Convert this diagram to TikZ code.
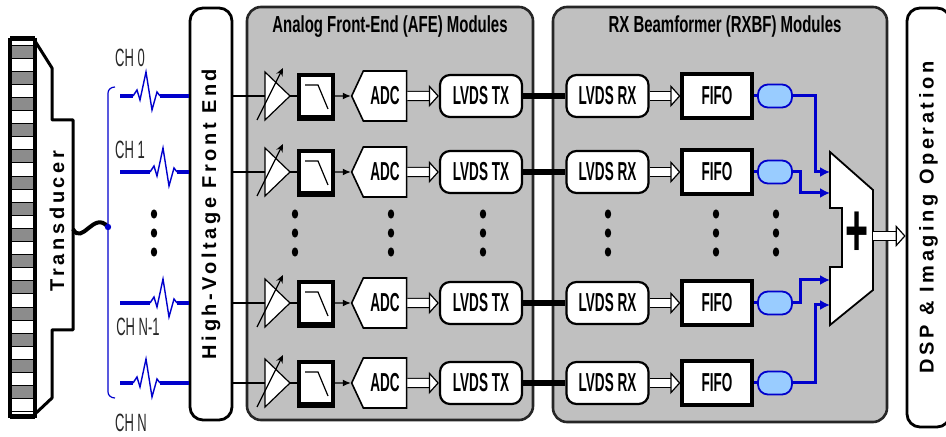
\documentclass[tikz,border=0pt]{standalone}
\usepackage{fontspec}
\setmainfont{Liberation Sans}
\newfontfamily\narrowfont{Liberation Sans}[FakeStretch=0.52]
\newfontfamily\titlefont{Liberation Sans}[FakeStretch=0.645]
\newfontfamily\widefont{Liberation Sans}[LetterSpace=18]
\usetikzlibrary{arrows.meta,shapes.symbols}
\definecolor{panel}{HTML}{C0C0C0}
\definecolor{wireblue}{HTML}{0000CC}
\definecolor{pillblue}{HTML}{99CCFF}
\definecolor{elemgray}{HTML}{8C8C8C}

\tikzset{
  module/.style={draw=black!85, line width=1.3pt, fill=panel, rounded corners=7pt},
  upright/.style={draw, line width=1.4pt, fill=white, rounded corners=6.5pt, rotate=90,
    font=\widefont\bfseries\fontsize{10}{10}\selectfont},
  modtitle/.style={font=\titlefont\bfseries\fontsize{11.6}{12}\selectfont},
  boxtext/.style={font=\narrowfont\bfseries\fontsize{13}{13}\selectfont},
  lvds/.style={boxtext, draw, line width=1.1pt, fill=white, rounded corners=5pt,
    minimum width=41pt, minimum height=21pt},
  fifo/.style={boxtext, draw, line width=1.6pt, fill=white, minimum width=35pt, minimum height=22pt},
  adc/.style={boxtext, shape=signal, signal to=west, signal pointer angle=130, draw,
    line width=0.8pt, fill=white, minimum width=27.5pt, minimum height=25pt},
  lpf/.style={draw, line width=1.6pt, fill=white, minimum width=17pt, minimum height=21pt},
  pill/.style={draw=wireblue, line width=0.9pt, fill=pillblue, rounded corners=5pt,
    minimum width=17pt, minimum height=11.5pt},
  chwire/.style={wireblue, line width=2pt},
  zigzag/.style={wireblue, line width=0.7pt},
  bus/.style={wireblue, line width=1.5pt},
  link/.style={line width=2.6pt},
  fat/.style={double=white, double distance=4pt, line width=0.6pt,
    -{Triangle[fill=white, length=5pt, width=11pt, line width=0.6pt]}},
  chlabel/.style={font=\narrowfont\fontsize{12.5}{13}\selectfont, text=black!85}
}

\begin{document}
\begin{tikzpicture}[x=0.5pt, y=-0.5pt, every node/.append style={inner sep=0pt}]
    \useasboundingbox (0,0) rectangle (946,437);
    \clip (0,0) rectangle (946,437);

    % module panels
    \node[module, minimum width=143pt, minimum height=206.5pt] (afe) at (390,213.5) {};
    \node[module, minimum width=167pt, minimum height=207.5pt] (rxbf) at (720,214.5) {};
    \node[modtitle] (afet) at (390,27) {Analog Front-End (AFE) Modules};
    \node[modtitle] (rxbft) at (725,27) {RX Beamformer (RXBF) Modules};

    \node[upright, minimum width=206pt, minimum height=21pt] (hv) at (211,214) {High-Voltage Front End};
    \node[upright, minimum width=209.5pt, minimum height=21.5pt] (dsp) at (928.5,217.5) {DSP \& Imaging Operation};

    % transducer
    \foreach \i in {0,2,...,26}
    \draw[fill=elemgray, line width=0.4pt] (10,45+\i*13.1) rectangle (35,58.1+\i*13.1);
    \foreach \i in {1,3,...,27}
    \draw[fill=white, line width=0.4pt] (10,45+\i*13.1) rectangle (35,58.1+\i*13.1);
    \draw[line width=1.5pt, line join=round] (35,41) -- (52,68) -- (52,120) -- (73,120) -- (73,330)
        -- (52,330) -- (52,398) -- (35,414);
    \draw[line width=2.5pt] (10,39) -- (35,39);
    \draw[line width=2.5pt] (10,417) -- (35,417);
    \draw[line width=1.8pt] (10,38) -- (10,418);
    \draw[line width=1.8pt] (35,38) -- (35,418);
    \node[rotate=90, font=\widefont\bfseries\fontsize{10}{10}\selectfont] (trd) at (57,221) {Transducer};

    % cable and bracket
    \coordinate (tap) at (108,227);
    \draw[line width=2pt] (73,229) .. controls (82,246) and (94,210) .. (tap);
    \draw[wireblue, line width=0.6pt] (115,87) to[out=180, in=90] (108,93) -- (108,392) to[out=-90, in=180] (115,398);
    \fill[wireblue] (tap) circle (1.6pt);

    \node[chlabel] (l0) at (130,58) {CH 0};
    \node[chlabel] (l1) at (130,150) {CH 1};
    \node[chlabel] (l2) at (138,327) {CH N-1};
    \node[chlabel] (l3) at (131,423) {CH N};

    % summer inputs
    \coordinate (in0) at (830,172);
    \coordinate (in1) at (830,193);
    \coordinate (in2) at (830,280);
    \coordinate (in3) at (830,305);

    \foreach \y/\n/\r/\k in {96/0/133/23, 172/1/150/8, 303/2/150/8, 383/3/133/23} {
        \coordinate (ch\n) at (120,\y);
        \coordinate (amp\n) at (265,\y);
        \draw[chwire] (ch\n) -- (\r,\y);
        \draw[zigzag] (\r,\y) -- ++(4,-6) -- ++(3,10) -- ++(6,-28) -- ++(6,38) -- ++(5,-18) -- ++(3,4) coordinate (rz\n);
        \draw[chwire] (rz\n) -- (hv.north |- ch\n);
        \draw[line width=0.6pt] (hv.south |- amp\n) -- (amp\n);
        \draw[fill=white, line width=0.6pt] (amp\n) ++(0,-24) -- ++(25,24) coordinate (ampo\n) -- ++(-25,24) -- cycle;
        \draw[line width=0.6pt, -{Stealth[length=4pt, width=3.5pt]}] ([shift={(-8,24)}]amp\n) -- ([shift={(18,-28)}]amp\n);
        \node[lpf] (lp\n) at (316,\y) {};
        \draw[line width=2.2pt] (lp\n.south west) -- (lp\n.south east);
        \draw[line width=0.6pt] ([shift={(-11,-11)}]lp\n.center) -- ++(13,0) -- ++(10,24);
        \draw[line width=0.6pt] (ampo\n) -- (lp\n);
        \node[adc] (adc\n) at (385,\y) {ADC};
        \draw[line width=0.6pt, -{Latex[length=4pt, width=3.5pt]}] (lp\n) -- (adc\n);
        \node[lvds] (tx\n) at (481,\y) {LVDS TX};
        \draw[fat] (adc\n) -- (tx\n);
        \node[lvds] (rx\n) at (607.5,\y) {LVDS RX};
        \draw[link] (tx\n) -- (rx\n);
        \node[fifo] (ff\n) at (717,\y) {FIFO};
        \draw[fat] (rx\n) -- (ff\n);
        \node[pill] (pl\n) at (775,\y) {};
        \draw[bus] (ff\n) -- (pl\n);
        \draw[bus, -{Latex[length=5pt, width=5pt]}] (pl\n.east) -- ++(\k,0) |- (in\n);
    }

    % dots
    \foreach \x in {154,295,391,483,608,716,776}
    \foreach \yy in {214,233,252}
    \fill (\x,\yy) ellipse [x radius=1.6pt, y radius=2.3pt];

    % summer
    \draw[fill=white, line width=0.9pt] (830,152) -- (873,190) -- (873,290) -- (830,325) -- (830,267)
        -- (842,267) -- (842,208) -- (830,208) -- cycle;
    \node[font=\narrowfont\bfseries\fontsize{38}{38}\selectfont] (plus) at (857,234) {+};
    \coordinate (sumout) at (873,236);
    \draw[fat] (sumout) -- (sumout -| dsp.north);
\end{tikzpicture}
\end{document}
